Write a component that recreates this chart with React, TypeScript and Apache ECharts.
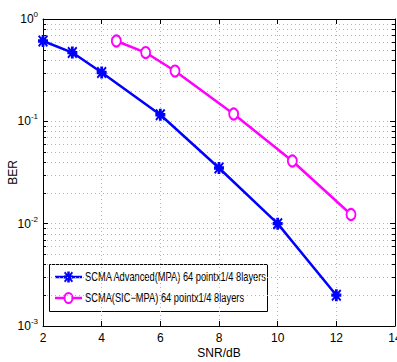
import React, { useEffect, useRef } from "react";
import * as echarts from "echarts";

const snrMpa = [2, 3, 4, 6, 8, 10, 12];
const berMpa = [0.61, 0.47, 0.3, 0.116, 0.035, 0.01, 0.002];
const snrSic = [4.5, 5.5, 6.5, 8.5, 10.5, 12.5];
const berSic = [0.61, 0.47, 0.31, 0.118, 0.041, 0.0123];
const nameMpa = "SCMA Advanced(MPA) 64 pointx1/4 8layers";
const nameSic = "SCMA(SIC\u2212MPA) 64 pointx1/4 8layers";
const yMinor = [0.001, 0.01, 0.1].flatMap((d) => [2, 3, 4, 5, 6, 7, 8, 9].map((k) => k * d));

const FONT = "'Liberation Sans', Arial, sans-serif";
const STAR_D =
  "M3.6,0h2.8v3.6h3.6v2.8h-3.6v3.6h-2.8v-3.6h-3.6v-2.8h3.6z M0,1.3 L1.3,0 L5,3.7 L8.7,0 L10,1.3 L6.3,5 L10,8.7 L8.7,10 L5,6.3 L1.3,10 L0,8.7 L3.7,5 Z";
const STAR = "path://" + STAR_D;

let registered = false;

export default function App() {
  const ref = useRef<HTMLDivElement>(null);
  useEffect(() => {
    document.body.style.margin = "0";
    if (!registered) {
      echarts.graphic.registerShape("starmark", echarts.graphic.extendPath(STAR_D, {}) as any);
      registered = true;
    }
    const chart = echarts.init(ref.current!, null, { renderer: "svg" });
    const grid = "#b4b4b4";
    const dotted = { color: grid, width: 1, type: [1, 3] as any };
    const blue = "#0000ff";
    const mag = "#ff00ff";
    chart.setOption({
      animation: false,
      textStyle: { fontFamily: FONT },
      grid: { left: 43, right: 2, top: 19, bottom: 36, outerBoundsMode: "none", containLabel: false },
      xAxis: [
        {
          type: "value",
          min: 2,
          max: 14,
          interval: 2,
          name: "SNR/dB",
          nameLocation: "middle",
          nameGap: 21,
          nameMoveOverlap: false,
          nameTextStyle: { fontSize: 12, color: "#000", fontFamily: FONT },
          axisLine: { lineStyle: { color: "#000", width: 1 } },
          axisTick: { inside: true, length: 5, lineStyle: { color: "#000" } },
          axisLabel: { fontSize: 12, color: "#000", margin: 6, fontFamily: FONT, hideOverlap: false },
          splitLine: { show: true, lineStyle: dotted },
        },
        {
          type: "value",
          position: "top",
          min: 2,
          max: 14,
          interval: 2,
          axisLine: { show: true, lineStyle: { color: "#000", width: 1 } },
          axisTick: { show: true, inside: true, length: 5, lineStyle: { color: "#000" } },
          axisLabel: { show: false },
          splitLine: { show: false },
        },
      ],
      yAxis: [
        {
          type: "log",
          logBase: 10,
          min: 0.001,
          max: 1,
          name: "BER",
          nameLocation: "middle",
          nameGap: 24,
          nameMoveOverlap: false,
          nameTextStyle: { fontSize: 12, color: "#000", fontFamily: FONT },
          axisLine: { show: true, lineStyle: { color: "#000", width: 1 } },
          axisTick: { show: true, inside: true, length: 5, lineStyle: { color: "#000" } },
          axisLabel: {
            margin: 5,
            formatter: (v: number) => `{b|10}{s|${Math.round(Math.log10(v))}}`,
            rich: {
              b: { fontSize: 12, color: "#000", fontFamily: FONT },
              s: { fontSize: 8, color: "#000", fontFamily: FONT, padding: [0, 0, 9, 0] },
            },
          },
          splitLine: { show: true, lineStyle: dotted },
        },
        {
          type: "log",
          logBase: 10,
          min: 0.001,
          max: 1,
          position: "right",
          axisLine: { show: true, lineStyle: { color: "#000", width: 1 } },
          axisTick: { show: true, inside: true, length: 5, lineStyle: { color: "#000" } },
          axisLabel: { show: false },
          splitLine: { show: false },
        },
      ],
      graphic: [
        {
          type: "group",
          z: 100,
          children: [
            {
              type: "rect",
              shape: { x: 49.5, y: 264.5, width: 218, height: 47 },
              style: { fill: "#fff", stroke: "#000", lineWidth: 1 },
            },
            {
              type: "line",
              shape: { x1: 55, y1: 277, x2: 82, y2: 277 },
              style: { stroke: blue, lineWidth: 2.5 },
            },
            {
              type: "starmark",
              x: 64,
              y: 271.5,
              scaleX: 0.9,
              scaleY: 1.1,
              style: { fill: blue, stroke: null },
            },
            {
              type: "text",
              x: 85,
              y: 277,
              scaleX: 0.775,
              style: { text: nameMpa, fontSize: 12, fontFamily: FONT, fill: "#000", verticalAlign: "middle", align: "left" },
            },
            {
              type: "line",
              shape: { x1: 55, y1: 298, x2: 82, y2: 298 },
              style: { stroke: mag, lineWidth: 2.5 },
            },
            {
              type: "ellipse",
              shape: { cx: 68.5, cy: 298, rx: 4, ry: 5 },
              style: { fill: "#fff", stroke: mag, lineWidth: 2 },
            },
            {
              type: "text",
              x: 85,
              y: 298,
              scaleX: 0.775,
              style: { text: nameSic, fontSize: 12, fontFamily: FONT, fill: "#000", verticalAlign: "middle", align: "left" },
            },
          ],
        },
      ],
      series: [
        {
          type: "custom",
          name: "minor",
          silent: true,
          z: 1,
          xAxisIndex: 0,
          yAxisIndex: 0,
          encode: { x: 0, y: 1 },
          data: yMinor.map((v) => [2, v]),
          renderItem: (params: any, api: any) => {
            const v = api.value(1);
            const pt = api.coord([2, v]);
            const cs = params.coordSys;
            const y = Math.round(pt[1]) + 0.5;
            const x0 = cs.x;
            const x1 = cs.x + cs.width;
            return {
              type: "group",
              children: [
                { type: "line", shape: { x1: x0, y1: y, x2: x1, y2: y }, style: { stroke: grid, lineWidth: 1, lineDash: [1, 3] } },
                { type: "line", shape: { x1: x0, y1: y, x2: x0 + 3, y2: y }, style: { stroke: "#000", lineWidth: 1 } },
                { type: "line", shape: { x1: x1 - 3, y1: y, x2: x1, y2: y }, style: { stroke: "#000", lineWidth: 1 } },
              ],
            };
          },
        },
        {
          type: "line",
          name: nameMpa,
          z: 3,
          data: snrMpa.map((x, i) => [x, berMpa[i]]),
          symbol: STAR,
          symbolSize: [10, 12],
          showAllSymbol: true,
          lineStyle: { color: blue, width: 2.5 },
          itemStyle: { color: blue, borderWidth: 0 },
        },
        {
          type: "line",
          name: nameSic,
          z: 3,
          data: snrSic.map((x, i) => [x, berSic[i]]),
          symbol: "circle",
          symbolSize: [9, 11],
          showAllSymbol: true,
          lineStyle: { color: mag, width: 2.5 },
          itemStyle: { color: "#ffffff", borderColor: mag, borderWidth: 2 },
        },
      ],
    });
    return () => chart.dispose();
  }, []);
  return <div ref={ref} style={{ width: 397, height: 362 }} />;
}
